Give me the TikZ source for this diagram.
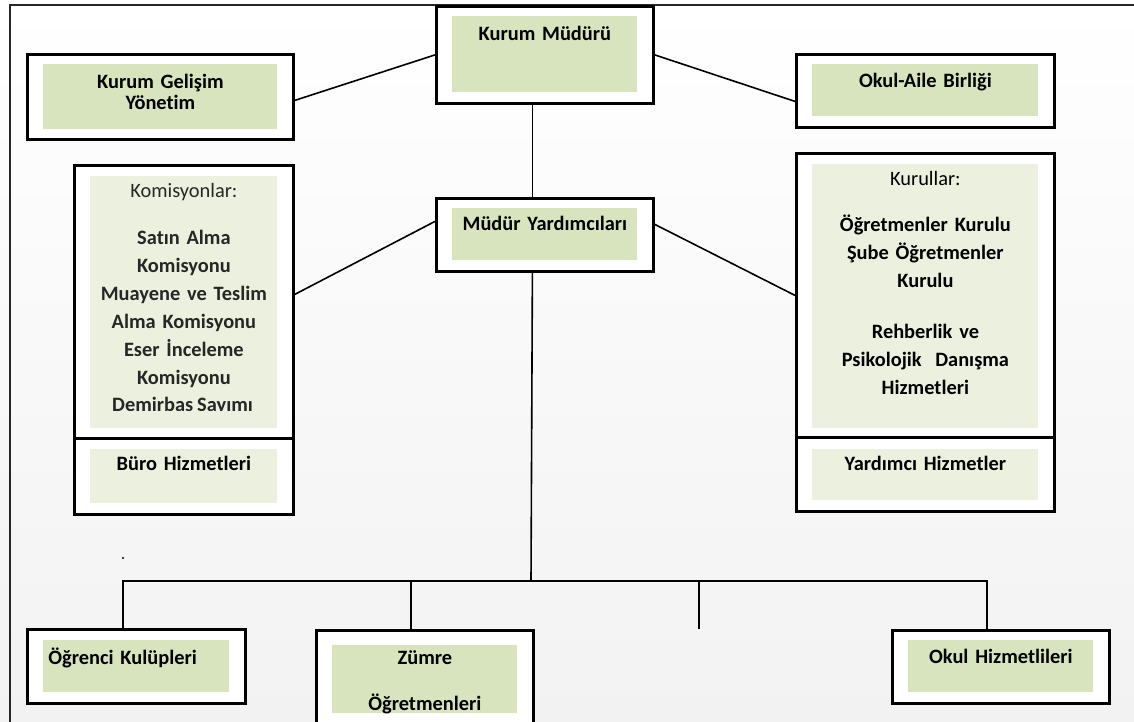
\documentclass[tikz,border=0pt]{standalone}
\usepackage{fontspec}
\setmainfont{Carlito}[Ligatures={NoCommon},WordSpace=0.85]
\usetikzlibrary{calc}
\definecolor{dgreen}{HTML}{D7E4BD}
\definecolor{lgreen}{HTML}{EBF1DE}
\definecolor{bggray}{HTML}{F2F2F2}
\definecolor{komgray}{HTML}{262626}
\definecolor{framegray}{HTML}{262626}
\pgfdeclarelayer{bgzero}
\pgfdeclarelayer{background}
\pgfsetlayers{bgzero,background,main}
\begin{document}
\begin{tikzpicture}[x=0.5pt,y=-0.5pt,
  orgbox/.style={draw=black,line width=1.4pt,fill=white,inner sep=0pt,align=center,anchor=north west,font=\fontsize{10.2}{14}\selectfont\bfseries},
  gfill/.style n args={3}{path picture={\fill[#1] ([xshift=8pt,yshift=-#2]path picture bounding box.north west) rectangle ([xshift=-8pt,yshift=#3]path picture bounding box.south east);}},
  conn/.style={draw=black,line width=0.8pt},
  frameline/.style={draw=framegray,line width=1.1pt}]
\useasboundingbox (0,0) rectangle (1134,722);
\begin{pgfonlayer}{bgzero}
\shade[top color=white,bottom color=bggray] (0,0) rectangle (1134,722);
\draw[frameline] (10,730) -- (10,5) -- (1140,5);
\end{pgfonlayer}

% top row
\node[orgbox,gfill={dgreen}{5pt}{5.5pt},text width=108.5pt,text height=17pt,text depth=31.5pt] (km) at (435,5) {Kurum Müdürü};
\node[orgbox,gfill={dgreen}{5pt}{5pt},text width=133pt,text height=17pt,text depth=25.5pt,font=\fontsize{10.2}{10.5}\selectfont\bfseries] (kgy) at (26,53) {Kurum Gelişim\\Yönetim};
\node[orgbox,gfill={dgreen}{5pt}{5.5pt},text width=129pt,text height=16.5pt,text depth=20pt] (oab) at (795,53) {Okul-Aile Birliği};

% middle row
\node[orgbox,gfill={dgreen}{5pt}{5.5pt},text width=108.5pt,text height=16pt,text depth=20.5pt] (my) at (435,197) {Müdür Yardımcıları};
\node[orgbox,gfill={lgreen}{5.5pt}{5pt},text width=109.5pt,text height=16pt,text depth=120.5pt,text=komgray] (kom) at (73,164) {{\mdseries Komisyonlar:}\\[9.5pt]Satın Alma\\Komisyonu\\Muayene ve Teslim\\Alma Komisyonu\\Eser İnceleme\\Komisyonu};
\node[orgbox,gfill={lgreen}{5.5pt}{5.5pt},text width=109.5pt,text height=16pt,text depth=22pt] (buro) at (73,437) {Büro Hizmetleri};
\node[orgbox,gfill={lgreen}{5.5pt}{4.5pt},text width=129pt,text height=16pt,text depth=126pt] (kur) at (795,152) {{\mdseries Kurullar:}\\[9pt]Öğretmenler Kurulu\\Şube Öğretmenler\\Kurulu\\[11.5pt]Rehberlik ve\\Psikolojik\ \ Danışma\\Hizmetleri};
\node[orgbox,gfill={lgreen}{6pt}{5.5pt},text width=129pt,text height=16.5pt,text depth=20.5pt] (yard) at (795,436) {Yardımcı Hizmetler};

\begin{scope}
\clip (80,380) rectangle (290,410.5);
\node[inner sep=0pt,anchor=base,text=komgray,font=\fontsize{10.2}{14}\selectfont\bfseries] (dem) at (182.5,411) {Demirbaş Sayımı};
\end{scope}

% bottom row
\node[orgbox,gfill={dgreen}{5.5pt}{5.5pt},text width=88pt,inner xsep=10.5pt,align=left,text height=17.5pt,text depth=19.5pt] (ok) at (26,628) {Öğrenci Kulüpleri};
\node[orgbox,gfill={dgreen}{7.5pt}{9pt},text width=108.5pt,text height=17pt,text depth=33.5pt] (zum) at (315,629) {Zümre\\[9pt]Öğretmenleri};
\node[orgbox,gfill={dgreen}{5pt}{5.5pt},text width=108.5pt,text height=16.5pt,text depth=20pt] (oh) at (891,629) {Okul Hizmetlileri};

% connectors
\coordinate (bm) at (531,581);
\coordinate (bl) at (123,581);
\coordinate (br) at (987,581);
\coordinate (bz) at (411,581);
\coordinate (bf) at (699,581);
\coordinate (fe) at (699,629);
\begin{pgfonlayer}{background}
\draw[conn] (km.west) -- ([yshift=-1.75pt]kgy.east);
\draw[conn] (km.east) -- ([yshift=-5.25pt]oab.west);
\draw[conn] ([xshift=-6.25pt]km.south) -- ([xshift=-6.25pt]my.north);
\draw[conn] ([yshift=6.75pt]my.west) -- ([yshift=3.75pt]kom.east);
\draw[conn] ([yshift=5.25pt]my.east) -- (kur.west);
\draw[conn] ([xshift=-6.25pt]my.south) -- (bm);
\draw[conn] (bl |- ok.north) -- (bl) -- (br) -- (br |- oh.north);
\draw[conn] (bz) -- (bz |- zum.north);
\draw[conn] (bf) -- (fe);
\end{pgfonlayer}
\fill (123,558) circle (0.6pt);
\end{tikzpicture}
\end{document}
